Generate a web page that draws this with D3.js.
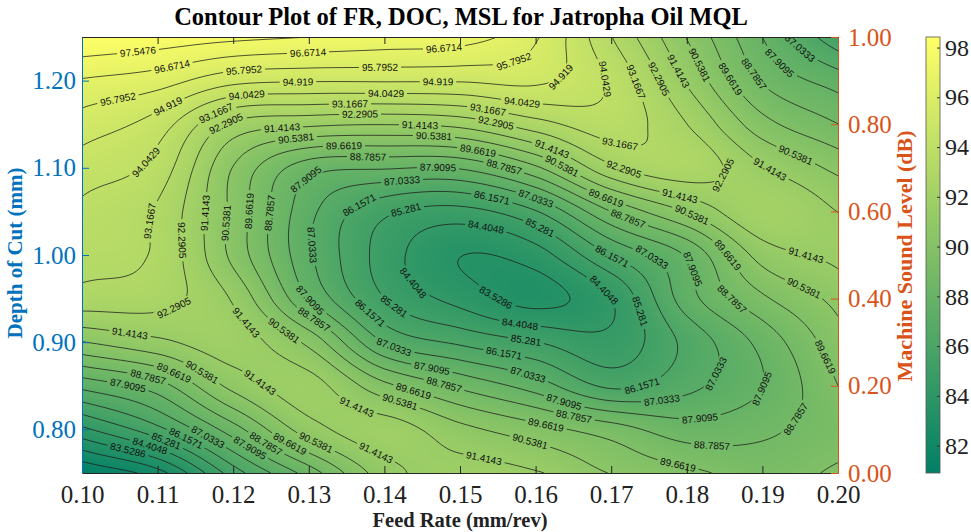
<!DOCTYPE html>
<html>
<head>
<meta charset="utf-8">
<script src="https://cdn.jsdelivr.net/npm/d3@7"></script>
<style>
  html, body { margin: 0; padding: 0; background: #fff; }
  svg { display: block; }
</style>
</head>
<body>
<svg id="chart" width="971" height="532"></svg>
<script>
// Feed rate (mm/rev) at each table column
const feedRate = [0.10, 0.11, 0.12, 0.13, 0.14, 0.15, 0.16, 0.17, 0.18, 0.19, 0.20];
// Depth of cut (mm) at each table row, top row first
const depthOfCut = [1.25, 1.20, 1.15, 1.10, 1.05, 1.00, 0.95, 0.90, 0.85, 0.80, 0.75];
// Machine sound level (dB): one row per depth of cut, one column per feed rate
const soundLevel = [
  [98.4, 98.1, 97.8, 97.55, 97.3, 97.1, 95.9, 93.2, 90.5, 87.9, 85.5],
  [96.6, 96.2, 95.2, 95.0, 95.0, 95.0, 95.1, 93.9, 91.3, 88.7, 87.5],
  [95.4, 94.5, 92.1, 91.6, 91.45, 91.7, 92.8, 93.6, 92.3, 90.0, 88.8],
  [94.5, 93.7, 90.5, 88.3, 88.0, 88.0, 89.5, 92.1, 92.8, 91.5, 90.3],
  [93.85, 93.05, 90.3, 87.3, 85.5, 85.0, 86.1, 88.8, 90.6, 92.15, 91.4],
  [93.45, 93.0, 90.3, 87.2, 84.9, 83.55, 84.0, 86.2, 88.0, 90.9, 91.6],
  [92.8, 92.6, 91.3, 87.9, 85.3, 84.1, 83.25, 84.4, 87.5, 89.5, 90.8],
  [90.5, 91.2, 91.8, 90.3, 87.0, 86.0, 85.3, 84.7, 86.4, 88.2, 90.2],
  [87.3, 88.4, 90.8, 91.7, 89.9, 88.6, 87.5, 86.0, 86.8, 87.9, 89.66],
  [84.2, 85.9, 88.4, 91.0, 91.8, 90.8, 90.0, 89.2, 88.3, 88.6, 89.3],
  [80.9, 82.3, 85.7, 88.3, 91.0, 91.8, 91.5, 90.5, 89.9, 89.3, 89.8]
];
// Contour levels (dB)
const contourLevels = [81.7762, 82.6524, 83.5286, 84.4048, 85.281, 86.1571, 87.0333, 87.9095,
  88.7857, 89.6619, 90.5381, 91.4143, 92.2905, 93.1667, 94.0429, 94.919, 95.7952, 96.6714, 97.5476];
// Colour range of the surface (dB)
const colorRange = [80.9, 98.424];
// Inline contour labels: [level, feed rate, depth of cut] near where each label sits
const contourLabels = [
  [97.5476, 0.1074, 1.2271], [97.5476, 0.1253, 1.2466],
  [96.6714, 0.1119, 1.2156], [96.6714, 0.1299, 1.2282], [96.6714, 0.1480, 1.2362],
  [95.7952, 0.1050, 1.1628], [95.7952, 0.1214, 1.2099], [95.7952, 0.1394, 1.2122], [95.7952, 0.1573, 1.2190],
  [94.919, 0.1107, 1.1800], [94.919, 0.1286, 1.1984], [94.919, 0.1470, 1.1995], [94.919, 0.1642, 1.1972],
  [94.0429, 0.1082, 1.1089], [94.0429, 0.1218, 1.1835], [94.0429, 0.1401, 1.1846], [94.0429, 0.1581, 1.1755], [94.0429, 0.1692, 1.2007],
  [93.1667, 0.1087, 1.0401], [93.1667, 0.1176, 1.1651], [93.1667, 0.1354, 1.1720], [93.1667, 0.1537, 1.1686], [93.1667, 0.1712, 1.1284], [93.1667, 0.1731, 1.1984],
  [92.2905, 0.1188, 1.1525], [92.2905, 0.1368, 1.1594], [92.2905, 0.1548, 1.1537], [92.2905, 0.1720, 1.1089], [92.2905, 0.1762, 1.2018], [92.2905, 0.1873, 1.0803], [92.2905, 0.1118, 1.0161], [92.2905, 0.1135, 0.9140],
  [91.4143, 0.1265, 1.1479], [91.4143, 0.1447, 1.1456], [91.4143, 0.1623, 1.1261], [91.4143, 0.1792, 1.0665], [91.4143, 0.1959, 1.0034], [91.4143, 0.1787, 1.2099], [91.4143, 0.1913, 1.1009], [91.4143, 0.1161, 1.0493], [91.4143, 0.1063, 0.9117], [91.4143, 0.1233, 0.8509], [91.4143, 0.1369, 0.8349], [91.4143, 0.1390, 0.7764], [91.4143, 0.1533, 0.7718], [91.4143, 0.1216, 0.9232],
  [90.5381, 0.1282, 1.1365], [90.5381, 0.1466, 1.1342], [90.5381, 0.1640, 1.1112], [90.5381, 0.1808, 1.0493], [90.5381, 0.1950, 0.9553], [90.5381, 0.1811, 1.2156], [90.5381, 0.1944, 1.1147], [90.5381, 0.1187, 1.0378], [90.5381, 0.1266, 0.9140], [90.5381, 0.1422, 0.8326], [90.5381, 0.1595, 0.7913], [90.5381, 0.1155, 0.8624], [90.5381, 0.1312, 0.7913],
  [89.6619, 0.1347, 1.1239], [89.6619, 0.1524, 1.1216], [89.6619, 0.1697, 1.0745], [89.6619, 0.1852, 0.9989], [89.6619, 0.1966, 0.8761], [89.6619, 0.1856, 1.1995], [89.6619, 0.1220, 1.0516], [89.6619, 0.1791, 0.7706], [89.6619, 0.1614, 0.8085], [89.6619, 0.1438, 0.8429], [89.6619, 0.1120, 0.8624], [89.6619, 0.1279, 0.7901],
  [88.7857, 0.1377, 1.1112], [88.7857, 0.1558, 1.1044], [88.7857, 0.1726, 1.0493], [88.7857, 0.1858, 0.9461], [88.7857, 0.1946, 0.8096], [88.7857, 0.1881, 1.2030], [88.7857, 0.1247, 1.0493], [88.7857, 0.1833, 0.7878], [88.7857, 0.1652, 0.8211], [88.7857, 0.1478, 0.8486], [88.7857, 0.1311, 0.9312], [88.7857, 0.1087, 0.8589], [88.7857, 0.1247, 0.7867],
  [87.9095, 0.1472, 1.0963], [87.9095, 0.1296, 1.0849], [87.9095, 0.1791, 0.9805], [87.9095, 0.1892, 0.8498], [87.9095, 0.1817, 0.8085], [87.9095, 0.1639, 0.8394], [87.9095, 0.1462, 0.8704], [87.9095, 0.1304, 0.9495], [87.9095, 0.1903, 1.2030], [87.9095, 0.1060, 0.8486], [87.9095, 0.1222, 0.7798],
  [87.0333, 0.1423, 1.0837], [87.0333, 0.1601, 1.0665], [87.0333, 0.1749, 0.9885], [87.0333, 0.1849, 0.8589], [87.0333, 0.1767, 0.8337], [87.0333, 0.1590, 0.8635], [87.0333, 0.1417, 0.9025], [87.0333, 0.1310, 1.0115], [87.0333, 0.1930, 1.2167], [87.0333, 0.1164, 0.7878],
  [86.1571, 0.1362, 1.0631], [86.1571, 0.1542, 1.0665], [86.1571, 0.1702, 1.0000], [86.1571, 0.1738, 0.8544], [86.1571, 0.1558, 0.8865], [86.1571, 0.1388, 0.9392], [86.1571, 0.1134, 0.7844],
  [85.281, 0.1430, 1.0505], [85.281, 0.1608, 1.0333], [85.281, 0.1742, 0.9358], [85.281, 0.1587, 0.9014], [85.281, 0.1415, 0.9438], [85.281, 0.1110, 0.7821],
  [84.4048, 0.1534, 1.0298], [84.4048, 0.1434, 0.9656], [84.4048, 0.1679, 0.9484], [84.4048, 0.1579, 0.9140], [84.4048, 0.1087, 0.7764],
  [83.5286, 0.1554, 0.9587], [83.5286, 0.1061, 0.7729]
];
// Axis ticks
const xTicks = [0.10, 0.11, 0.12, 0.13, 0.14, 0.15, 0.16, 0.17, 0.18, 0.19, 0.20];
const yTicks = [0.80, 0.90, 1.00, 1.10, 1.20];
const rightTicks = [0.00, 0.20, 0.40, 0.60, 0.80, 1.00];
const colorbarTicks = [82, 84, 86, 88, 90, 92, 94, 96, 98];

const BLUE = "#0072BD", ORANGE = "#D95319", DARK = "#262626";
const serif = "'Liberation Serif', 'Times New Roman', serif";
const sans = "'Liberation Sans', Arial, Helvetica, sans-serif";

const svg = d3.select("#chart");
const M = { left: 82, right: 838, top: 37, bottom: 473 };
const pw = M.right - M.left, ph = M.bottom - M.top;

const x = d3.scaleLinear().domain([0.10, 0.20]).range([M.left, M.right]);
const y = d3.scaleLinear().domain([0.75, 1.25]).range([M.bottom, M.top]);
const yRight = d3.scaleLinear().domain([0, 1]).range([M.bottom, M.top]);
const zScale = d3.scaleLinear().domain(colorRange).range([0, 1]).clamp(true);

// MATLAB "summer" colormap: green-teal to yellow
function summer(t) {
  return [Math.round(255 * t), Math.round(255 * (0.5 + 0.5 * t)), Math.round(255 * 0.4)];
}

// Smooth surface through the table (bicubic Catmull-Rom)
const nCols = feedRate.length, nRows = depthOfCut.length;
function cell(i, j) {
  if (i < 0) return 2 * cell(0, j) - cell(1, j);
  if (i > nCols - 1) return 2 * cell(nCols - 1, j) - cell(nCols - 2, j);
  if (j < 0) return 2 * cell(i, 0) - cell(i, 1);
  if (j > nRows - 1) return 2 * cell(i, nRows - 1) - cell(i, nRows - 2);
  return soundLevel[j][i];
}
function cr(p0, p1, p2, p3, t) {
  return 0.5 * (2 * p1 + (-p0 + p2) * t + (2 * p0 - 5 * p1 + 4 * p2 - p3) * t * t +
    (-p0 + 3 * p1 - 3 * p2 + p3) * t * t * t);
}
function surface(fr, doc) {
  let u = (fr - feedRate[0]) / (feedRate[1] - feedRate[0]);
  let v = (doc - depthOfCut[0]) / (depthOfCut[1] - depthOfCut[0]);
  u = Math.max(0, Math.min(nCols - 1, u));
  v = Math.max(0, Math.min(nRows - 1, v));
  const i = Math.min(Math.floor(u), nCols - 2), j = Math.min(Math.floor(v), nRows - 2);
  const tu = u - i, tv = v - j;
  const r = [];
  for (let dj = -1; dj <= 2; dj++) {
    r.push(cr(cell(i - 1, j + dj), cell(i, j + dj), cell(i + 1, j + dj), cell(i + 2, j + dj), tu));
  }
  return cr(r[0], r[1], r[2], r[3], tv);
}

// ---- Title
svg.append("text")
  .attr("x", 461).attr("y", 25)
  .attr("text-anchor", "middle")
  .style("font-family", serif).style("font-weight", "bold").style("font-size", "24.5px")
  .attr("fill", "#000")
  .text("Contour Plot of FR, DOC, MSL for Jatropha Oil MQL");

// ---- Clip for the plot area
const defs = svg.append("defs");
defs.append("clipPath").attr("id", "plotClip")
  .append("rect").attr("x", M.left).attr("y", M.top).attr("width", pw).attr("height", ph);

// ---- Shaded surface
const canvas = document.createElement("canvas");
canvas.width = pw; canvas.height = ph;
const ctx = canvas.getContext("2d");
const img = ctx.createImageData(pw, ph);
for (let py = 0; py < ph; py++) {
  const doc = y.invert(M.top + py + 0.5);
  for (let px = 0; px < pw; px++) {
    const fr = x.invert(M.left + px + 0.5);
    const c = summer(zScale(surface(fr, doc)));
    const k = 4 * (py * pw + px);
    img.data[k] = c[0]; img.data[k + 1] = c[1]; img.data[k + 2] = c[2]; img.data[k + 3] = 255;
  }
}
ctx.putImageData(img, 0, 0);
svg.append("image")
  .attr("x", M.left).attr("y", M.top).attr("width", pw).attr("height", ph)
  .attr("preserveAspectRatio", "none")
  .attr("href", canvas.toDataURL());

// ---- Contour lines
const step = 2, pad = 2;
const nx = Math.ceil(pw / step) + 2 * pad + 1, ny = Math.ceil(ph / step) + 2 * pad + 1;
const values = new Float64Array(nx * ny);
for (let j = 0; j < ny; j++) {
  const doc = y.invert(M.top - pad * step + j * step);
  for (let i = 0; i < nx; i++) {
    values[i + j * nx] = surface(x.invert(M.left - pad * step + i * step), doc);
  }
}
const contours = d3.contours().size([nx, ny]).thresholds(contourLevels)(values);
const tx = gx => M.left - pad * step + (gx - 0.5) * step;
const ty = gy => M.top - pad * step + (gy - 0.5) * step;
const path = d3.geoPath(d3.geoTransform({
  point(a, b) { this.stream.point(tx(a), ty(b)); }
}));

const mask = defs.append("mask").attr("id", "labelGaps")
  .attr("maskUnits", "userSpaceOnUse")
  .attr("x", 0).attr("y", 0).attr("width", 971).attr("height", 532);
mask.append("rect").attr("x", 0).attr("y", 0).attr("width", 971).attr("height", 532).attr("fill", "#fff");

const plot = svg.append("g").attr("clip-path", "url(#plotClip)");
plot.append("g").attr("mask", "url(#labelGaps)")
  .selectAll("path").data(contours).join("path")
  .attr("d", path)
  .attr("fill", "none")
  .attr("stroke", "#1c1c1c")
  .attr("stroke-width", 0.75);

// ---- Inline labels on the contour lines
const ringsByLevel = contours.map(c => {
  const rings = [];
  c.coordinates.forEach(poly => poly.forEach(ring => rings.push(ring.map(p => [tx(p[0]), ty(p[1])]))));
  return rings;
});
const inset = 5;
const labelLayer = plot.append("g");
contourLabels.forEach(([lvl, fr, doc]) => {
  const li = contourLevels.indexOf(lvl);
  if (li < 0) return;
  const ax = x(fr), ay = y(doc);
  let best = null, bestD = 32 * 32;
  ringsByLevel[li].forEach(pts => {
    pts.forEach((p, k) => {
      if (p[0] < M.left + inset || p[0] > M.right - inset || p[1] < M.top + inset || p[1] > M.bottom - inset) return;
      const d = (p[0] - ax) ** 2 + (p[1] - ay) ** 2;
      if (d < bestD) { bestD = d; best = { pts, k }; }
    });
  });
  if (!best) return;
  const { pts, k } = best, n = pts.length;
  const dist = (p, q) => Math.hypot(p[0] - q[0], p[1] - q[1]);
  let a = k, b = k;
  for (let s = 0; s < n && dist(pts[a], pts[k]) < 14; s++) a = (a - 1 + n) % n;
  for (let s = 0; s < n && dist(pts[b], pts[k]) < 14; s++) b = (b + 1) % n;
  let ang = Math.atan2(pts[b][1] - pts[a][1], pts[b][0] - pts[a][0]) * 180 / Math.PI;
  if (ang > 90) ang -= 180;
  if (ang < -90) ang += 180;
  const [px, py] = pts[k];
  const t = labelLayer.append("text")
    .attr("transform", `translate(${px},${py}) rotate(${ang})`)
    .attr("text-anchor", "middle")
    .attr("dy", "0.35em")
    .style("font-family", sans).style("font-size", "10px")
    .attr("fill", "#111")
    .text(String(lvl));
  const w = t.node().getComputedTextLength();
  mask.append("rect")
    .attr("transform", `translate(${px},${py}) rotate(${ang})`)
    .attr("x", -w / 2 - 3).attr("y", -5).attr("width", w + 6).attr("height", 10)
    .attr("fill", "#000");
});

// ---- Axes
function styleAxis(g, color, fontSize) {
  g.select(".domain").attr("stroke", color).attr("stroke-width", 1);
  g.selectAll(".tick line").attr("stroke", color).attr("stroke-width", 1);
  g.selectAll(".tick text").attr("fill", color)
    .style("font-family", serif).style("font-size", fontSize);
}
svg.append("g").attr("transform", `translate(0,${M.bottom})`)
  .call(d3.axisBottom(x).tickValues(xTicks).tickSize(-7).tickSizeOuter(0).tickPadding(12).tickFormat(d3.format(".2f")))
  .call(g => styleAxis(g, DARK, "25px"))
  .call(g => g.selectAll(".tick text").attr("fill", "#222"));
svg.append("g").attr("transform", `translate(0,${M.top})`)
  .call(d3.axisTop(x).tickValues(xTicks).tickSize(-7).tickSizeOuter(0).tickFormat(""))
  .call(g => styleAxis(g, DARK, "25px"));
svg.append("g").attr("transform", `translate(${M.left},0)`)
  .call(d3.axisLeft(y).tickValues(yTicks).tickSize(-7).tickSizeOuter(0).tickPadding(6).tickFormat(d3.format(".2f")))
  .call(g => styleAxis(g, BLUE, "25px"));
svg.append("g").attr("transform", `translate(${M.right},0)`)
  .call(d3.axisRight(yRight).tickValues(rightTicks).tickSize(-7).tickSizeOuter(0).tickPadding(10).tickFormat(d3.format(".2f")))
  .call(g => styleAxis(g, ORANGE, "25px"));

// ---- Axis titles
svg.append("text")
  .attr("x", 460).attr("y", 527).attr("text-anchor", "middle")
  .style("font-family", serif).style("font-weight", "bold").style("font-size", "20.5px")
  .attr("fill", "#222").text("Feed Rate (mm/rev)");
svg.append("text")
  .attr("transform", "translate(22,253) rotate(-90)").attr("text-anchor", "middle")
  .style("font-family", serif).style("font-weight", "bold").style("font-size", "21px")
  .attr("fill", BLUE).text("Depth of Cut (mm)");
svg.append("text")
  .attr("transform", "translate(912,256) rotate(-90)").attr("text-anchor", "middle")
  .style("font-family", serif).style("font-weight", "bold").style("font-size", "22px")
  .attr("fill", ORANGE).text("Machine Sound Level (dB)");

// ---- Colorbar
const cb = { x: 926, w: 14 };
const cbScale = d3.scaleLinear().domain(colorRange).range([M.bottom, M.top]);
const grad = defs.append("linearGradient").attr("id", "cbGrad")
  .attr("x1", 0).attr("y1", 1).attr("x2", 0).attr("y2", 0);
d3.range(0, 1.0001, 0.05).forEach(t => {
  const c = summer(t);
  grad.append("stop").attr("offset", t).attr("stop-color", `rgb(${c[0]},${c[1]},${c[2]})`);
});
svg.append("rect")
  .attr("x", cb.x).attr("y", M.top).attr("width", cb.w).attr("height", ph)
  .attr("fill", "url(#cbGrad)").attr("stroke", "#555").attr("stroke-width", 0.8);
svg.append("g").attr("transform", `translate(${cb.x + cb.w},0)`)
  .call(d3.axisRight(cbScale).tickValues(colorbarTicks).tickSize(-3).tickSizeOuter(0).tickPadding(5).tickFormat(d3.format("d")))
  .call(g => g.select(".domain").remove())
  .call(g => g.selectAll(".tick line").attr("stroke", "#333"))
  .call(g => g.selectAll(".tick text").attr("fill", "#222").style("font-family", serif).style("font-size", "24px"));
</script>
</body>
</html>
